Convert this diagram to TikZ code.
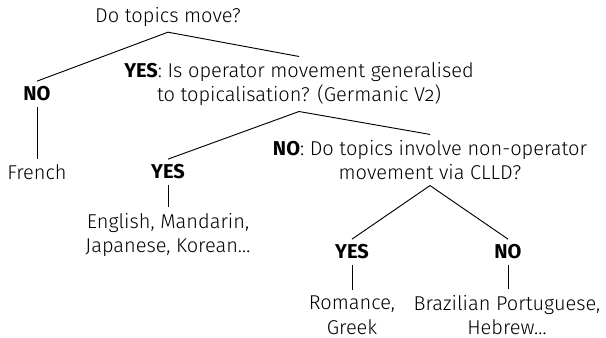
\documentclass[tikz,border=0pt]{standalone}
\usepackage{fontspec}
\setmainfont{Fira Sans Light}[BoldFont={Fira Sans Bold}, Numbers=OldStyle]
\begin{document}
\begin{tikzpicture}[x=0.75pt,y=-0.75pt,
  every node/.style={font=\fontsize{15}{18.5}\selectfont, align=center, inner sep=4pt, text=black},
  edge/.style={draw=black, line width=0.7pt}]
\useasboundingbox (0,0) rectangle (606,338);
\node (q1) at (168,17) {Do topics move?};
\node (no1) at (37,94) {\textbf{NO}};
\node (fr) at (37,172) {French};
\node (q2) at (299,84) {\textbf{YES}: Is operator movement generalised\\to topicalisation? (Germanic V2)};
\node (yes2) at (168,172) {\textbf{YES}};
\node (eng) at (168,235) {English, Mandarin,\\Japanese, Korean…};
\node (q3) at (430,160) {\textbf{NO}: Do topics involve non-operator\\movement via CLLD?};
\node (yes3) at (352,252) {\textbf{YES}};
\node (no3) at (508,252) {\textbf{NO}};
\node (rom) at (352,315) {Romance,\\Greek};
\node (bra) at (507,315) {Brazilian Portuguese,\\Hebrew…};
\draw[edge] (q1.south) -- (no1.north);
\draw[edge] (q1.south) -- (q2.north);
\draw[edge] (q2.south) -- (yes2.north);
\draw[edge] (q2.south) -- (q3.north);
\draw[edge] (q3.south) -- (yes3.north);
\draw[edge] (q3.south) -- (no3.north);
\draw[edge] (no1.south) -- (fr.north);
\draw[edge] (yes2.south) -- (eng.north);
\draw[edge] (yes3.south) -- (rom.north);
\draw[edge] (no3.south) -- (no3.south |- bra.north);
\end{tikzpicture}
\end{document}
